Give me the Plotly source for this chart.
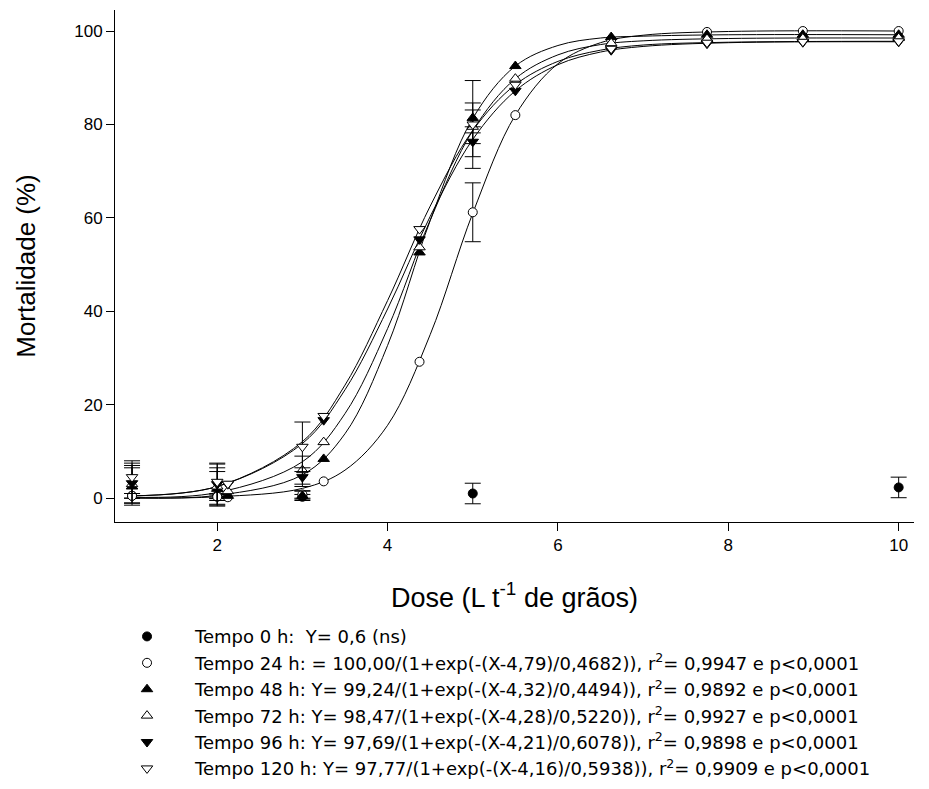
import plotly.graph_objects as go

# observed doses (with standard error bars)
dose_obs = [1, 2, 3, 5]
dose_t0 = [1, 2, 3, 5, 10]
# doses of the points lying on the fitted curves
dose_fit = [2.125, 3.25, 4.375, 5.5, 6.625, 7.75, 8.875, 10]
dose_curve = [1, 2, 3, 3.5, 4, 4.5, 5, 5.5, 6, 6.5, 7, 8, 10]

t0_y = [0.5, 0.5, 0.3, 1.0, 2.3]
t0_err = [0.5, 0.5, 0.5, 2.2, 2.2]

t24_y = [0.5, 0.3, 0.8, 61.2]
t24_err = [0.5, 0.4, 0.8, 6.3]
t48_y = [2.5, 2.0, 0.5, 81.4]
t48_err = [4.0, 3.7, 1.0, 3.2]
t72_y = [3.0, 2.5, 6.0, 79.5]
t72_err = [4.0, 4.0, 3.0, 3.6]
t96_y = [3.2, 3.0, 4.5, 76.3]
t96_err = [4.3, 4.3, 2.0, 3.2]
t120_y = [4.5, 3.5, 11.0, 80.0]
t120_err = [3.5, 4.0, 5.3, 9.4]

t24_fit = [0.2, 3.6, 29.2, 82.0, 98.1, 99.8, 100.0, 100.0]
t48_fit = [0.5, 8.4, 52.6, 92.5, 98.7, 99.2, 99.2, 99.2]
t72_fit = [1.5, 12.0, 53.7, 89.8, 97.4, 98.3, 98.4, 98.5]
t96_fit = [3.0, 16.7, 55.4, 87.2, 95.9, 97.3, 97.6, 97.7]
t120_fit = [3.1, 17.6, 57.6, 88.5, 96.2, 97.5, 97.7, 97.8]

t24_curve = [0.0, 0.3, 2.1, 6.0, 15.6, 35.0, 61.0, 82.0, 93.0, 97.5, 99.1, 99.9, 100.0]
t48_curve = [0.1, 0.6, 5.0, 13.8, 32.7, 59.4, 81.3, 92.5, 96.9, 98.5, 98.9, 99.2, 99.2]
t72_curve = [0.2, 1.2, 7.8, 18.1, 36.3, 59.5, 78.7, 89.8, 94.9, 97.1, 97.9, 98.4, 98.5]
t96_curve = [0.5, 2.5, 11.7, 23.2, 40.5, 60.3, 76.8, 87.2, 92.8, 95.5, 96.7, 97.5, 97.7]
t120_curve = [0.5, 2.5, 12.1, 24.2, 42.3, 62.5, 78.7, 88.5, 93.5, 95.9, 97.0, 97.6, 97.8]

labels = [
    "Tempo 0 h:  Y= 0,6 (ns)",
    "Tempo 24 h: = 100,00/(1+exp(-(X-4,79)/0,4682)), r<sup>2</sup>= 0,9947 e p&lt;0,0001",
    "Tempo 48 h: Y= 99,24/(1+exp(-(X-4,32)/0,4494)), r<sup>2</sup>= 0,9892 e p&lt;0,0001",
    "Tempo 72 h: Y= 98,47/(1+exp(-(X-4,28)/0,5220)), r<sup>2</sup>= 0,9927 e p&lt;0,0001",
    "Tempo 96 h: Y= 97,69/(1+exp(-(X-4,21)/0,6078)), r<sup>2</sup>= 0,9898 e p&lt;0,0001",
    "Tempo 120 h: Y= 97,77/(1+exp(-(X-4,16)/0,5938)), r<sup>2</sup>= 0,9909 e p&lt;0,0001",
]

series = [
    (t24_y, t24_err, t24_fit, t24_curve, "circle", "white", 9),
    (t48_y, t48_err, t48_fit, t48_curve, "triangle-up", "black", 10),
    (t72_y, t72_err, t72_fit, t72_curve, "triangle-up", "white", 10),
    (t96_y, t96_err, t96_fit, t96_curve, "triangle-down", "black", 10),
    (t120_y, t120_err, t120_fit, t120_curve, "triangle-down", "white", 10),
]

fig = go.Figure()

# fitted curves first, so markers sit on top
for s in series:
    fig.add_trace(go.Scatter(x=dose_curve, y=s[3], mode="lines", showlegend=False,
                             line=dict(color="black", width=1, shape="spline"), hoverinfo="skip"))

fig.add_trace(go.Scatter(
    x=dose_t0, y=t0_y, mode="markers", name=labels[0],
    marker=dict(symbol="circle", size=9, color="black", line=dict(color="black", width=1)),
    error_y=dict(type="data", array=t0_err, color="black", thickness=1, width=8),
))

for i, s in enumerate(series):
    mk = dict(symbol=s[4], size=s[6], color=s[5], line=dict(color="black", width=1))
    fig.add_trace(go.Scatter(
        x=dose_obs, y=s[0], mode="markers", showlegend=False, legendgroup=str(i),
        marker=mk,
        error_y=dict(type="data", array=s[1], color="black", thickness=1, width=8),
    ))
    fig.add_trace(go.Scatter(
        x=dose_fit, y=s[2], mode="markers", name=labels[i + 1], legendgroup=str(i),
        marker=mk,
    ))

# page body has an 8px margin, so the figure is 8px smaller than the window
fig.update_layout(
    width=921,
    height=781,
    margin=dict(l=107, r=15, t=2, b=267),
    plot_bgcolor="white",
    paper_bgcolor="white",
    font=dict(family="Arial, Liberation Sans", color="black", size=16),
    legend=dict(x=-0.02, y=-0.518, xanchor="left", yanchor="bottom", itemwidth=86,
                font=dict(size=18, family="DejaVu Sans"), tracegroupgap=0,
                bgcolor="rgba(0,0,0,0)"),
    xaxis=dict(
        range=[0.8, 10.18], tickvals=[2, 4, 6, 8, 10], showgrid=False, zeroline=False,
        showline=True, linecolor="black", linewidth=1, ticks="outside", ticklen=8,
        tickcolor="black", tickfont=dict(size=17), automargin=False,
        title=dict(text="Dose (L t<sup>-1</sup> de grãos)", font=dict(size=27), standoff=33),
    ),
    yaxis=dict(
        range=[-5.1, 104.5], tickvals=[0, 20, 40, 60, 80, 100], showgrid=False, zeroline=False,
        showline=True, linecolor="black", linewidth=1, ticks="outside", ticklen=8,
        tickcolor="black", tickfont=dict(size=17), automargin=False,
        title=dict(text="Mortalidade (%)", font=dict(size=26), standoff=31),
    ),
)

fig.write_html("out.html")
